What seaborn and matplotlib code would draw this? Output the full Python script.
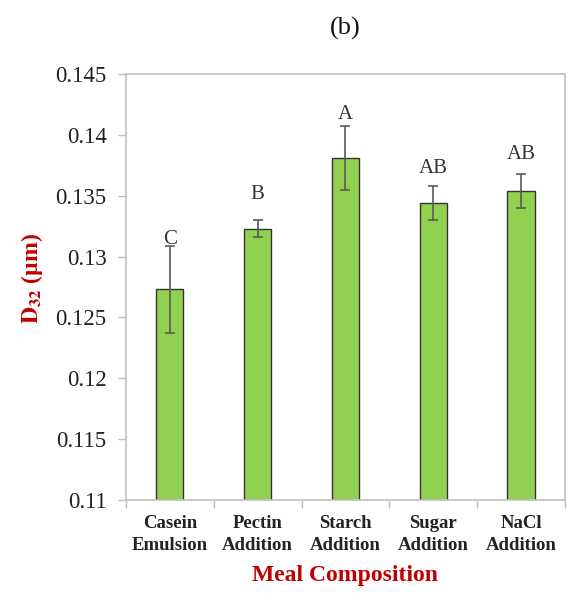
import matplotlib
matplotlib.use("Agg")
import matplotlib.pyplot as plt
import seaborn as sns
import pandas as pd
from matplotlib.ticker import FixedLocator

# Sauter mean diameter by meal composition
categories = ["Casein\nEmulsion", "Pectin\nAddition", "Starch\nAddition", "Sugar\nAddition", "NaCl\nAddition"]
d32_mean = [0.1273, 0.1323, 0.1381, 0.1344, 0.1354]
d32_err = [0.0036, 0.0007, 0.0026, 0.0014, 0.0014]
letters = ["C", "B", "A", "AB", "AB"]
letter_y = [0.1314, 0.1351, 0.1417, 0.1372, 0.1384]
y_ticks = [0.11, 0.115, 0.12, 0.125, 0.13, 0.135, 0.14, 0.145]
y_tick_labels = ["0.11", "0.115", "0.12", "0.125", "0.13", "0.135", "0.14", "0.145"]

sns.set_style("white")
plt.rcParams["font.family"] = ["Liberation Serif", "DejaVu Serif"]
plt.rcParams["mathtext.fontset"] = "stix"

df = pd.DataFrame({"group": categories, "d32": d32_mean})

fig = plt.figure(figsize=(5.69, 5.95), dpi=100)
ax = fig.add_axes([0.2214, 0.1597, 0.7715, 0.7160])

sns.barplot(data=df, x="group", y="d32", color="#92D050", width=0.31,
            edgecolor="#333333", linewidth=1.0, saturation=1, ax=ax, zorder=2)
ax.errorbar(range(len(categories)), d32_mean, yerr=d32_err, fmt="none",
            ecolor="#5a5a5a", elinewidth=1.2, capsize=3.5, capthick=1.2, zorder=3)

for i, (lab, yy) in enumerate(zip(letters, letter_y)):
    ax.text(i, yy, lab, ha="center", va="center", fontsize=15, color="#333333")

ax.set_ylim(0.11, 0.145)
ax.set_xlim(-0.5, len(categories) - 0.5)
ax.set_yticks(y_ticks)
ax.set_yticklabels(y_tick_labels, fontsize=16.5, color="#222222")
ax.set_xticks(range(len(categories)))
ax.set_xticklabels(categories, fontsize=13.5, fontweight="bold", color="#222222",
                   linespacing=1.35)
ax.xaxis.set_minor_locator(FixedLocator([i - 0.5 for i in range(len(categories) + 1)]))
ax.tick_params(axis="x", which="major", length=0, pad=11)
ax.tick_params(axis="x", which="minor", length=6, color="#bfbfbf", width=1, bottom=True)
ax.tick_params(axis="y", which="major", length=6, color="#bfbfbf", width=1, pad=8, left=True)

for side in ["left", "right", "top", "bottom"]:
    ax.spines[side].set_visible(True)
    ax.spines[side].set_color("#c0c0c0")
    ax.spines[side].set_linewidth(1.2)

ax.set_xlabel("Meal Composition", fontsize=17, fontweight="bold", color="#C00000", labelpad=8)
ax.set_ylabel(r"$\mathbf{D_{32}}$ (µm)", fontsize=17, fontweight="bold", color="#C00000", labelpad=10)
ax.yaxis.set_label_coords(-0.185, 0.52)
ax.set_title("(b)", fontsize=19, color="#111111", pad=28)

fig.savefig("out.png", dpi=100)
